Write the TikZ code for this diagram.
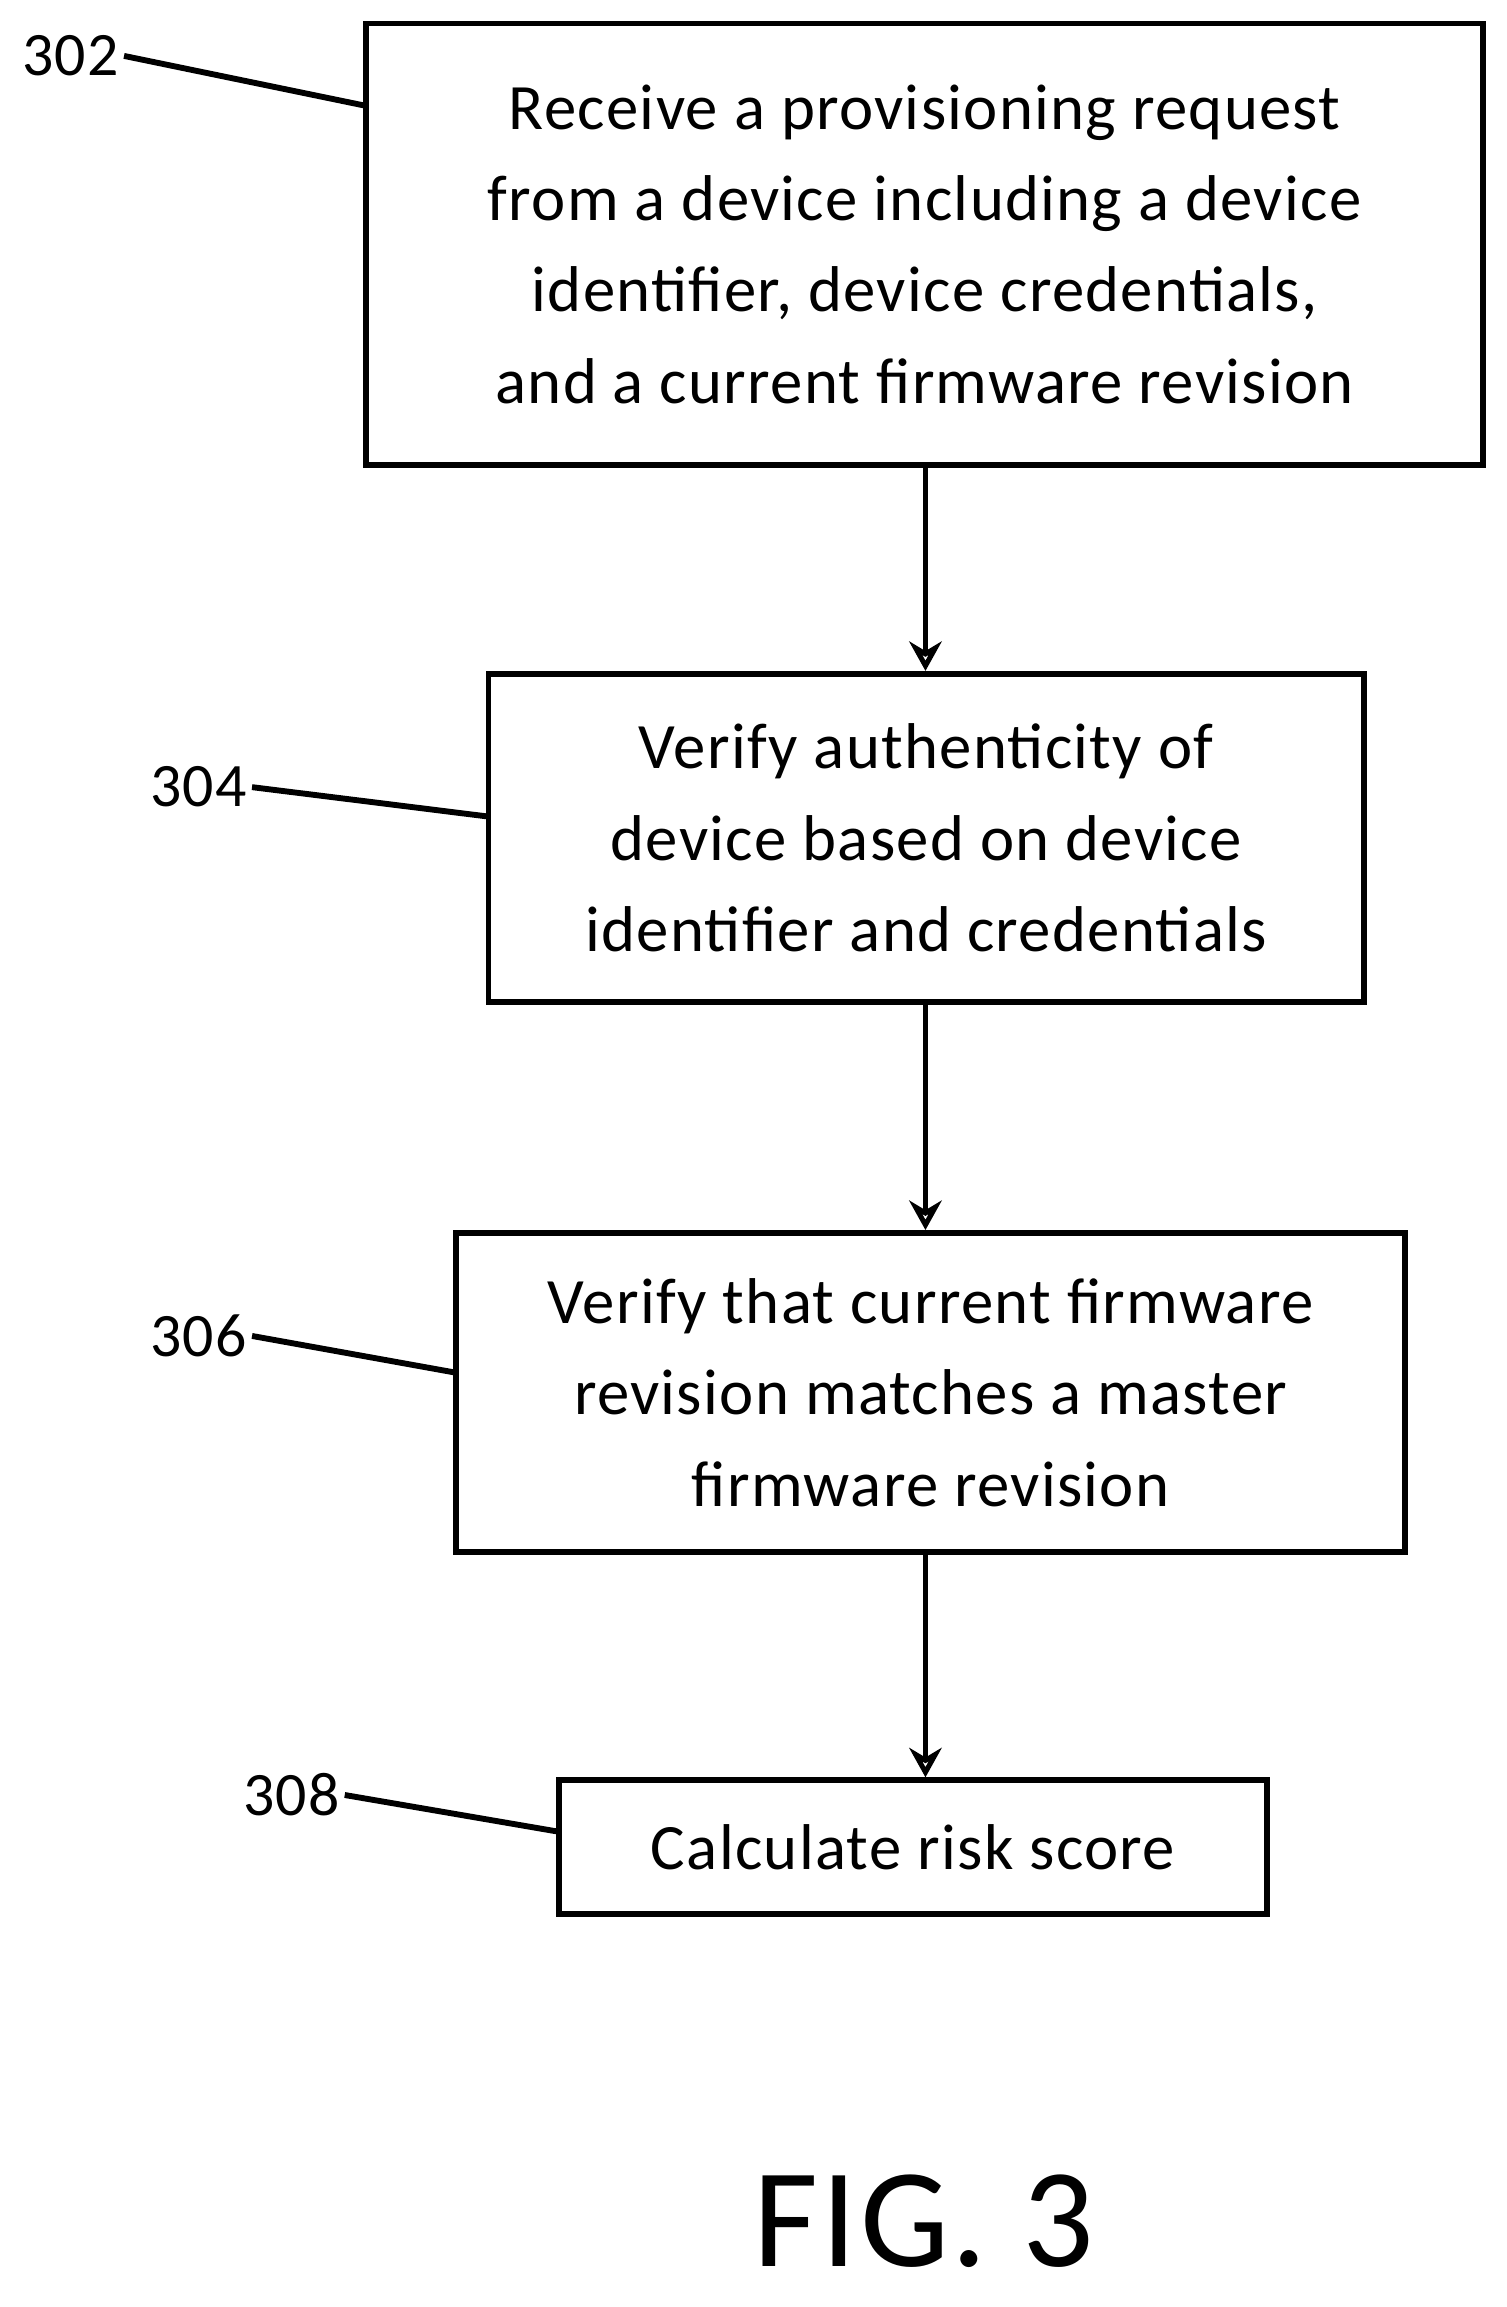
\documentclass[tikz,border=0pt]{standalone}
\usepackage{fontspec}
\setmainfont{Carlito}[LetterSpace=2]
\usetikzlibrary{positioning,arrows.meta}
\tikzset{
  stepbox/.style={draw, line width=4pt, align=center, font=\fontsize{44}{62}\selectfont, inner sep=0pt},
  tag/.style={font=\fontsize{42}{44}\selectfont},
  flow/.style={-{Stealth[length=20pt,width=22pt,open]}, line width=4pt},
  lead/.style={line width=4pt}
}
\begin{document}
\begin{tikzpicture}[x=1pt,y=-1pt]
		\useasboundingbox (0,0) rectangle (1024,1568);
		\node [stepbox, minimum width=759pt, minimum height=300pt] (302) at (628.5,166) {Receive a provisioning request\\from a device including a device\\identifier, device credentials,\\and a current firmware revision};
		\node [stepbox, minimum width=595pt, minimum height=223pt] (304) at (629.5,569.5) {Verify authenticity of\\device based on device\\identifier and credentials};
		\node [stepbox, minimum width=645pt, minimum height=217pt] (306) at (632.5,946.5) {Verify that current firmware\\revision matches a master\\firmware revision};
		\node [stepbox, minimum width=481pt, minimum height=91pt] (308) at (620.5,1255.5) {Calculate risk score};
		\node [tag] (l302) at (48,38) {302};
		\node [tag] (l304) at (135,535) {304};
		\node [tag] (l306) at (135,908) {306};
		\node [tag] (l308) at (198,1220) {308};
		\node [font=\fontsize{96}{100}\selectfont] (fig) at (628,1510) {FIG. 3};
		\draw [flow] (302.south -| 629,0) to (304.north -| 629,0);
		\draw [flow] (304.south -| 629,0) to (306.north -| 629,0);
		\draw [flow] (306.south -| 629,0) to (308.north -| 629,0);
		\draw [lead] (l302.east) to (249,72);
		\draw [lead] (l304.east) to (332,555);
		\draw [lead] (l306.east) to (310,933);
		\draw [lead] (l308.east) to (380,1245);
\end{tikzpicture}
\end{document}
